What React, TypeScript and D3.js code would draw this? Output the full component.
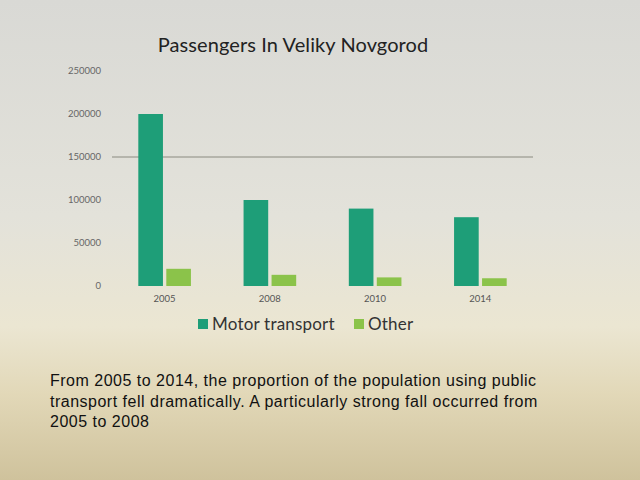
import React from "react";
import * as d3 from "d3";

const years = ["2005", "2008", "2010", "2014"];
const seriesNames = ["Motor transport", "Other"];
const motorTransport = [200000, 100000, 90000, 80000];
const other = [20000, 13000, 10000, 9000];
const yTicks = [0, 50000, 100000, 150000, 200000, 250000];
const gridValues = [150000];
const colors = ["#1e9e78", "#8bc34a"];
const caption = [
  "From 2005 to 2014, the proportion of the population using public",
  "transport fell dramatically. A particularly strong fall occurred from",
  "2005 to 2008",
];

const W = 640;
const H = 480;

const App = () => {
  const x0 = d3
    .scaleBand()
    .domain(years)
    .range([112, 533])
    .paddingInner(0.5)
    .paddingOuter(0.25);

  const x1 = d3
    .scaleBand()
    .domain(seriesNames)
    .range([0, x0.bandwidth()])
    .paddingInner(0.12);

  const y = d3.scaleLinear().domain([0, 250000]).range([286, 71]);

  const values = [motorTransport, other];

  return (
    <svg
      width={W}
      height={H}
      style={{ position: "absolute", left: 0, top: 0 }}
    >
      <defs>
        <linearGradient id="bg" x1="0" y1="0" x2="0" y2="1">
          <stop offset="0" stopColor="#d9d9d5" />
          <stop offset="0.45" stopColor="#e3e2da" />
          <stop offset="0.68" stopColor="#ebe6d2" />
          <stop offset="0.82" stopColor="#e2d8b8" />
          <stop offset="1" stopColor="#cfc29c" />
        </linearGradient>
      </defs>
      <rect width={W} height={H} fill="url(#bg)" />

      <text
        x={293}
        y={52}
        textAnchor="middle"
        fontFamily="Lato, 'Open Sans', sans-serif"
        fontSize={20}
        letterSpacing={0.1}
        fill="#222"
      >
        Passengers In Veliky Novgorod
      </text>

      {gridValues.map(v => (
        <line
          key={v}
          x1={112}
          x2={533}
          y1={y(v)}
          y2={y(v)}
          stroke="#8a8a80"
          strokeWidth={1}
        />
      ))}

      {yTicks.map(t => (
        <text
          key={t}
          x={101}
          y={y(t)}
          dy="0.35em"
          textAnchor="end"
          fontFamily="Lato, 'Open Sans', sans-serif"
          fontSize={9.5}
          fill="#666"
        >
          {t}
        </text>
      ))}

      {years.map((yr, i) => (
        <g key={yr} transform={`translate(${x0(yr)},0)`}>
          {seriesNames.map((s, j) => (
            <rect
              key={s}
              x={x1(s)}
              y={y(values[j][i])}
              width={x1.bandwidth()}
              height={y(0) - y(values[j][i])}
              fill={colors[j]}
            />
          ))}
          <text
            x={x0.bandwidth() / 2}
            y={302}
            textAnchor="middle"
            fontFamily="Lato, 'Open Sans', sans-serif"
            fontSize={9.5}
            fill="#555"
          >
            {yr}
          </text>
        </g>
      ))}

      {seriesNames.map((s, j) => {
        const lx = j === 0 ? 198 : 354;
        return (
          <g key={s}>
            <rect x={lx} y={319} width={10} height={10} fill={colors[j]} />
            <text
              x={lx + 14}
              y={330}
              fontFamily="Lato, 'Open Sans', sans-serif"
              fontSize={17}
              letterSpacing={0.2}
              fill="#333"
            >
              {s}
            </text>
          </g>
        );
      })}

      {caption.map((line, i) => (
        <text
          key={i}
          x={50}
          y={386 + i * 20.5}
          fontFamily="'Liberation Sans', Arial, sans-serif"
          fontSize={16}
          letterSpacing={0.5}
          fill="#111"
        >
          {line}
        </text>
      ))}
    </svg>
  );
};

export default App;
